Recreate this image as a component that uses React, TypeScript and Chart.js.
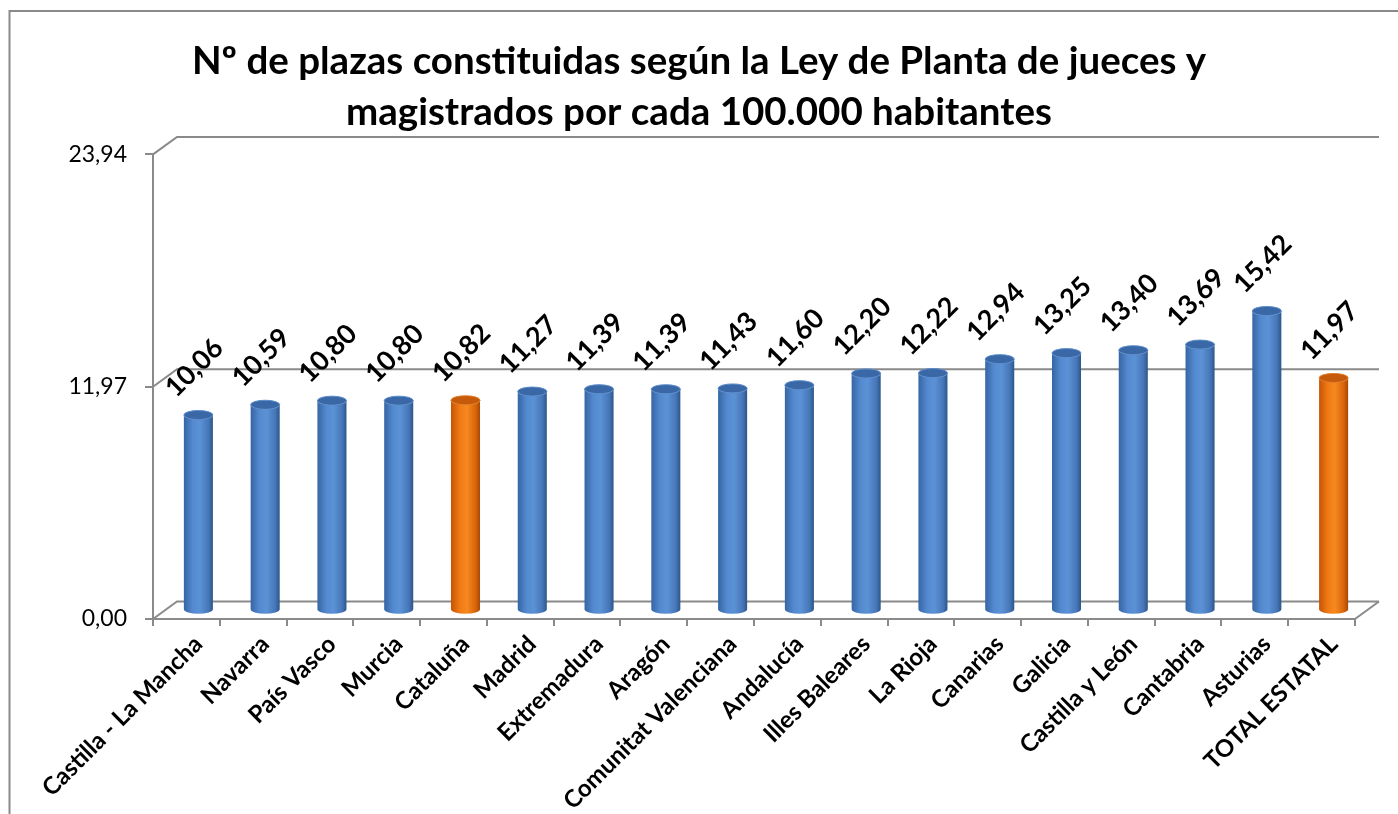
import React, { useEffect, useRef } from 'react';
import { Chart, registerables } from 'chart.js';

Chart.register(...registerables);

const categories = [
  'Castilla - La Mancha', 'Navarra', 'País Vasco', 'Murcia', 'Cataluña', 'Madrid',
  'Extremadura', 'Aragón', 'Comunitat Valenciana', 'Andalucía', 'Illes Baleares',
  'La Rioja', 'Canarias', 'Galicia', 'Castilla y León', 'Cantabria', 'Asturias', 'TOTAL ESTATAL',
];
const values = [
  10.06, 10.59, 10.80, 10.80, 10.82, 11.27, 11.39, 11.39, 11.43, 11.60, 12.20,
  12.22, 12.94, 13.25, 13.40, 13.69, 15.42, 11.97,
];
const highlighted = ['Cataluña', 'TOTAL ESTATAL'];
const yTicks = [0, 11.97, 23.94];
const titleLines = [
  'Nº de plazas constituidas según la Ley de Planta de jueces y',
  'magistrados por cada 100.000 habitantes',
];

const FONT = 'Lato, "Open Sans", sans-serif';
const GRID = '#8a8a8a';
const DX = 24;
const DY = -17.5;

const fmt = (v: number) => v.toFixed(2).replace('.', ',');

const threeD = {
  id: 'threeD',
  beforeDraw(chart: any) {
    const ctx = chart.ctx;
    ctx.save();
    ctx.fillStyle = '#ffffff';
    ctx.fillRect(0, 0, chart.width, chart.height);
    ctx.strokeStyle = GRID;
    ctx.lineWidth = 2;
    ctx.beginPath();
    ctx.moveTo(9.5, chart.height);
    ctx.lineTo(9.5, 11);
    ctx.lineTo(chart.width, 11);
    ctx.stroke();
    ctx.restore();
  },
  beforeDatasetsDraw(chart: any) {
    const ctx = chart.ctx;
    const { left, right, bottom } = chart.chartArea;
    const ys = chart.scales.y;
    ctx.save();
    ctx.strokeStyle = GRID;
    ctx.lineWidth = 2;
    ctx.beginPath();
    yTicks.forEach((v) => {
      const y = ys.getPixelForValue(v);
      ctx.moveTo(left, y);
      ctx.lineTo(left + DX, y + DY);
      ctx.lineTo(right + DX, y + DY);
    });
    ctx.moveTo(right, bottom);
    ctx.lineTo(right + DX, bottom + DY);
    ctx.stroke();
    ctx.restore();
  },
  afterDatasetsDraw(chart: any) {
    const ctx = chart.ctx;
    const meta = chart.getDatasetMeta(0);
    ctx.save();
    meta.data.forEach((el: any, i: number) => {
      const orange = highlighted.includes(categories[i]);
      const cx = el.x + DX / 2;
      const topY = el.y + DY / 2;
      const baseY = el.base + DY / 2;
      const rx = el.width / 2;
      const ry = 4.5;
      const g = ctx.createLinearGradient(cx - rx, 0, cx + rx, 0);
      if (orange) {
        g.addColorStop(0, '#c65405');
        g.addColorStop(0.3, '#f07a14');
        g.addColorStop(0.55, '#f6891f');
        g.addColorStop(0.85, '#d8640a');
        g.addColorStop(1, '#a84805');
      } else {
        g.addColorStop(0, '#3565a3');
        g.addColorStop(0.3, '#5489cf');
        g.addColorStop(0.55, '#5b92d6');
        g.addColorStop(0.85, '#4676b8');
        g.addColorStop(1, '#2c5689');
      }
      ctx.beginPath();
      ctx.moveTo(cx - rx, topY);
      ctx.lineTo(cx - rx, baseY);
      ctx.ellipse(cx, baseY, rx, ry, 0, Math.PI, 0, true);
      ctx.lineTo(cx + rx, topY);
      ctx.ellipse(cx, topY, rx, ry, 0, 0, Math.PI, false);
      ctx.closePath();
      ctx.fillStyle = g;
      ctx.fill();
      ctx.beginPath();
      ctx.ellipse(cx, topY, rx, ry, 0, 0, Math.PI * 2);
      ctx.fillStyle = orange ? '#c45a0a' : '#3a68a6';
      ctx.fill();
      ctx.lineWidth = 1;
      ctx.strokeStyle = orange ? '#e57a22' : '#5a8bcb';
      ctx.stroke();

      ctx.save();
      ctx.translate(cx - 4, topY - 47);
      ctx.rotate(-Math.PI / 4);
      ctx.font = `bold 27px ${FONT}`;
      ctx.fillStyle = '#000000';
      ctx.textAlign = 'center';
      ctx.textBaseline = 'middle';
      ctx.fillText(fmt(values[i]), 0, 0);
      ctx.restore();
    });
    ctx.restore();
  },
};

export default function App() {
  const ref = useRef<HTMLCanvasElement | null>(null);
  useEffect(() => {
    if (!ref.current) return;
    const chart = new Chart(ref.current, {
      type: 'bar',
      data: {
        labels: categories,
        datasets: [
          {
            data: values,
            backgroundColor: 'rgba(0,0,0,0)',
            borderWidth: 0,
            barPercentage: 0.435,
            categoryPercentage: 1,
          },
        ],
      },
      options: {
        responsive: false,
        animation: false,
        layout: { padding: { left: 0, right: 0, top: 0, bottom: 0 } },
        plugins: {
          legend: { display: false },
          tooltip: { enabled: false },
          title: {
            display: true,
            text: titleLines,
            color: '#000000',
            font: { family: FONT, size: 38.5, weight: 'bold', lineHeight: 1.33 },
            padding: { top: 35.5, bottom: 16.5 },
          },
        },
        scales: {
          x: {
            grid: {
              display: true,
              drawOnChartArea: false,
              drawTicks: true,
              tickLength: 7,
              color: GRID,
              lineWidth: 2,
              offset: true,
            },
            border: { display: true, color: GRID, width: 2 },
            ticks: {
              autoSkip: false,
              minRotation: 45,
              maxRotation: 45,
              padding: 4,
              labelOffset: 12,
              color: '#000000',
              font: { family: FONT, size: 24, weight: 'bold' },
            },
            afterFit: (s: any) => {
              s.height = 195;
            },
          },
          y: {
            min: 0,
            max: 23.94,
            afterBuildTicks: (s: any) => {
              s.ticks = yTicks.map((v) => ({ value: v }));
            },
            grid: {
              display: true,
              drawOnChartArea: false,
              drawTicks: true,
              tickLength: 8,
              color: GRID,
              lineWidth: 2,
            },
            border: { display: true, color: GRID, width: 2 },
            ticks: {
              padding: 18,
              color: '#000000',
              font: { family: FONT, size: 23 },
              callback: (v: any) => fmt(Number(v)),
            },
            afterFit: (s: any) => {
              s.width = 153;
            },
          },
          ySpace: {
            type: 'linear',
            position: 'right',
            display: true,
            min: 0,
            max: 23.94,
            grid: { display: false, drawTicks: false },
            border: { display: false },
            ticks: { display: false },
            afterFit: (s: any) => {
              s.width = 43;
            },
          },
        },
      },
      plugins: [threeD],
    });
    return () => chart.destroy();
  }, []);
  return (
    <div style={{ position: 'absolute', left: 0, top: 0, width: 1398, height: 814 }}>
      <canvas ref={ref} width={1398} height={814} />
    </div>
  );
}
